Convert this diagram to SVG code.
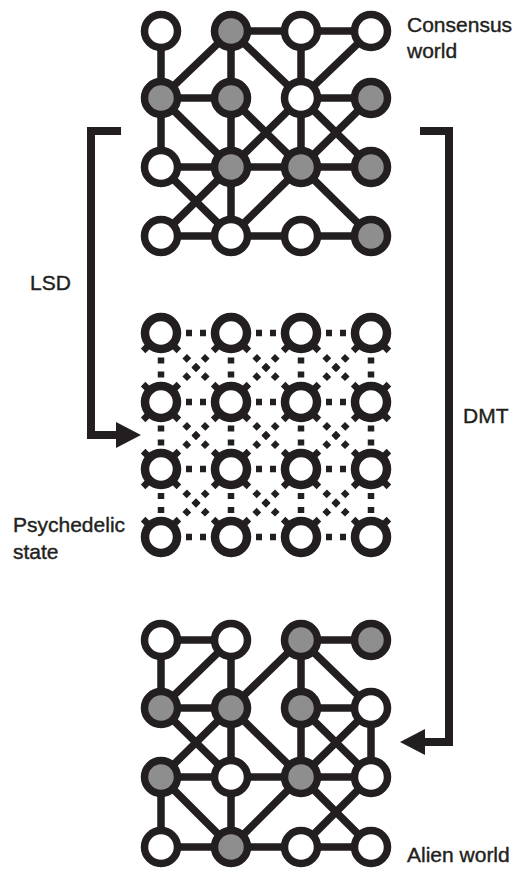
<svg xmlns="http://www.w3.org/2000/svg" xmlns:xlink="http://www.w3.org/1999/xlink" width="522" height="871" viewBox="0 0 522 871">
<style>
.edge{stroke:#231f20;stroke-width:7.5;fill:none;stroke-linecap:butt}
.node{stroke:#231f20;stroke-width:7.5;fill:#ffffff}
.grey{fill:#8e8e8e}
.ring{stroke:#231f20;stroke-width:8.5;fill:#ffffff}
.tab{stroke:#231f20;stroke-width:6.5;stroke-linecap:butt}
.dh{stroke:#231f20;stroke-width:6.5;stroke-dasharray:6 8}
.dd{stroke:#231f20;stroke-width:6.5;stroke-dasharray:6 7}
.arrow{stroke:#231f20;stroke-width:8;fill:none;stroke-linejoin:miter}
.head{fill:#231f20}
.lbl{font-family:"Liberation Sans",Arial,sans-serif;font-size:21px;fill:#231f20;stroke:#231f20;stroke-width:0.4}
</style>
<defs>
<g id="tabsD"><line class="tab" x1="13.4" y1="13.4" x2="17.9" y2="17.9"/><line class="tab" x1="-13.4" y1="13.4" x2="-17.9" y2="17.9"/></g>
<g id="tabsU"><line class="tab" x1="13.4" y1="-13.4" x2="17.9" y2="-17.9"/><line class="tab" x1="-13.4" y1="-13.4" x2="-17.9" y2="-17.9"/></g>
</defs>
<rect width="522" height="871" fill="#ffffff"/>

<g id="connectors">
<g id="top-edges" class="edge">
<path d="M231,31 H371 M161,98 H231 M301,98 H371 M161,167 H371 M161,236 H371"/>
<path d="M161,31 V167 M231,31 V236 M301,31 V167"/>
<path d="M231,31 L161,98 M231,31 L301,98 L371,167 M371,31 L301,98 L231,167 L161,236 M161,98 L231,167 M231,98 L301,167 L371,236 M371,98 L301,167 L231,236 M161,167 L231,236"/>
</g>
<g id="bottom-edges" class="edge">
<path d="M161,640 H231 M301,640 H371 M161,708 H231 M301,708 H371 M161,777 H371 M161,847 H371"/>
<path d="M161,640 V708 M161,777 V847 M231,640 V847 M301,640 V777 M371,708 V777"/>
<path d="M231,640 L161,708 M301,640 L231,708 L161,777 M301,640 L371,708 L301,777 L231,847 M161,708 L231,777 M231,708 L301,777 L371,847 M301,708 L371,777 L301,847 M161,777 L231,847"/>
</g>
<g id="middle-edges">
<line class="dh" x1="186" y1="333" x2="206" y2="333"/><line class="dh" x1="256" y1="333" x2="276" y2="333"/><line class="dh" x1="326" y1="333" x2="346" y2="333"/>
<line class="dh" x1="186" y1="402" x2="206" y2="402"/><line class="dh" x1="256" y1="402" x2="276" y2="402"/><line class="dh" x1="326" y1="402" x2="346" y2="402"/>
<line class="dh" x1="186" y1="469" x2="206" y2="469"/><line class="dh" x1="256" y1="469" x2="276" y2="469"/><line class="dh" x1="326" y1="469" x2="346" y2="469"/>
<line class="dh" x1="186" y1="537" x2="206" y2="537"/><line class="dh" x1="256" y1="537" x2="276" y2="537"/><line class="dh" x1="326" y1="537" x2="346" y2="537"/>
<line class="dh" x1="161" y1="357.5" x2="161" y2="377.5"/><line class="dh" x1="231" y1="357.5" x2="231" y2="377.5"/><line class="dh" x1="301" y1="357.5" x2="301" y2="377.5"/><line class="dh" x1="371" y1="357.5" x2="371" y2="377.5"/>
<line class="dh" x1="161" y1="425.5" x2="161" y2="445.5"/><line class="dh" x1="231" y1="425.5" x2="231" y2="445.5"/><line class="dh" x1="301" y1="425.5" x2="301" y2="445.5"/><line class="dh" x1="371" y1="425.5" x2="371" y2="445.5"/>
<line class="dh" x1="161" y1="493" x2="161" y2="513"/><line class="dh" x1="231" y1="493" x2="231" y2="513"/><line class="dh" x1="301" y1="493" x2="301" y2="513"/><line class="dh" x1="371" y1="493" x2="371" y2="513"/>
<line class="dd" x1="184.7" y1="356.2" x2="207.3" y2="378.8"/><line class="dd" x1="207.3" y1="356.2" x2="184.7" y2="378.8"/>
<line class="dd" x1="254.7" y1="356.2" x2="277.3" y2="378.8"/><line class="dd" x1="277.3" y1="356.2" x2="254.7" y2="378.8"/>
<line class="dd" x1="324.7" y1="356.2" x2="347.3" y2="378.8"/><line class="dd" x1="347.3" y1="356.2" x2="324.7" y2="378.8"/>
<line class="dd" x1="184.7" y1="424.2" x2="207.3" y2="446.8"/><line class="dd" x1="207.3" y1="424.2" x2="184.7" y2="446.8"/>
<line class="dd" x1="254.7" y1="424.2" x2="277.3" y2="446.8"/><line class="dd" x1="277.3" y1="424.2" x2="254.7" y2="446.8"/>
<line class="dd" x1="324.7" y1="424.2" x2="347.3" y2="446.8"/><line class="dd" x1="347.3" y1="424.2" x2="324.7" y2="446.8"/>
<line class="dd" x1="184.7" y1="491.7" x2="207.3" y2="514.3"/><line class="dd" x1="207.3" y1="491.7" x2="184.7" y2="514.3"/>
<line class="dd" x1="254.7" y1="491.7" x2="277.3" y2="514.3"/><line class="dd" x1="277.3" y1="491.7" x2="254.7" y2="514.3"/>
<line class="dd" x1="324.7" y1="491.7" x2="347.3" y2="514.3"/><line class="dd" x1="347.3" y1="491.7" x2="324.7" y2="514.3"/>
</g>
<g id="lsd-arrow"><path class="arrow" d="M121,131 H91 V435 H120"/><polygon class="head" points="116,422 141,435 116,448"/></g>
<g id="dmt-arrow"><path class="arrow" d="M420,131 H449 V742 H422"/><polygon class="head" points="425,729 400,742 425,755"/></g>
</g>

<g id="top-nodes">
<g id="t00"><circle class="node" cx="161" cy="31" r="16.5"/></g>
<g id="t01"><circle class="node grey" cx="231" cy="31" r="16.5"/></g>
<g id="t02"><circle class="node" cx="301" cy="31" r="16.5"/></g>
<g id="t03"><circle class="node" cx="371" cy="31" r="16.5"/></g>
<g id="t10"><circle class="node grey" cx="161" cy="98" r="16.5"/></g>
<g id="t11"><circle class="node grey" cx="231" cy="98" r="16.5"/></g>
<g id="t12"><circle class="node" cx="301" cy="98" r="16.5"/></g>
<g id="t13"><circle class="node grey" cx="371" cy="98" r="16.5"/></g>
<g id="t20"><circle class="node" cx="161" cy="167" r="16.5"/></g>
<g id="t21"><circle class="node grey" cx="231" cy="167" r="16.5"/></g>
<g id="t22"><circle class="node grey" cx="301" cy="167" r="16.5"/></g>
<g id="t23"><circle class="node grey" cx="371" cy="167" r="16.5"/></g>
<g id="t30"><circle class="node" cx="161" cy="236" r="16.5"/></g>
<g id="t31"><circle class="node" cx="231" cy="236" r="16.5"/></g>
<g id="t32"><circle class="node" cx="301" cy="236" r="16.5"/></g>
<g id="t33"><circle class="node grey" cx="371" cy="236" r="16.5"/></g>
</g>

<g id="middle-nodes">
<g id="m00"><use xlink:href="#tabsD" x="161" y="333"/><circle class="ring" cx="161" cy="333" r="16"/></g>
<g id="m01"><use xlink:href="#tabsD" x="231" y="333"/><circle class="ring" cx="231" cy="333" r="16"/></g>
<g id="m02"><use xlink:href="#tabsD" x="301" y="333"/><circle class="ring" cx="301" cy="333" r="16"/></g>
<g id="m03"><use xlink:href="#tabsD" x="371" y="333"/><circle class="ring" cx="371" cy="333" r="16"/></g>
<g id="m10"><use xlink:href="#tabsD" x="161" y="402"/><use xlink:href="#tabsU" x="161" y="402"/><circle class="ring" cx="161" cy="402" r="16"/></g>
<g id="m11"><use xlink:href="#tabsD" x="231" y="402"/><use xlink:href="#tabsU" x="231" y="402"/><circle class="ring" cx="231" cy="402" r="16"/></g>
<g id="m12"><use xlink:href="#tabsD" x="301" y="402"/><use xlink:href="#tabsU" x="301" y="402"/><circle class="ring" cx="301" cy="402" r="16"/></g>
<g id="m13"><use xlink:href="#tabsD" x="371" y="402"/><use xlink:href="#tabsU" x="371" y="402"/><circle class="ring" cx="371" cy="402" r="16"/></g>
<g id="m20"><use xlink:href="#tabsD" x="161" y="469"/><use xlink:href="#tabsU" x="161" y="469"/><circle class="ring" cx="161" cy="469" r="16"/></g>
<g id="m21"><use xlink:href="#tabsD" x="231" y="469"/><use xlink:href="#tabsU" x="231" y="469"/><circle class="ring" cx="231" cy="469" r="16"/></g>
<g id="m22"><use xlink:href="#tabsD" x="301" y="469"/><use xlink:href="#tabsU" x="301" y="469"/><circle class="ring" cx="301" cy="469" r="16"/></g>
<g id="m23"><use xlink:href="#tabsD" x="371" y="469"/><use xlink:href="#tabsU" x="371" y="469"/><circle class="ring" cx="371" cy="469" r="16"/></g>
<g id="m30"><use xlink:href="#tabsU" x="161" y="537"/><circle class="ring" cx="161" cy="537" r="16"/></g>
<g id="m31"><use xlink:href="#tabsU" x="231" y="537"/><circle class="ring" cx="231" cy="537" r="16"/></g>
<g id="m32"><use xlink:href="#tabsU" x="301" y="537"/><circle class="ring" cx="301" cy="537" r="16"/></g>
<g id="m33"><use xlink:href="#tabsU" x="371" y="537"/><circle class="ring" cx="371" cy="537" r="16"/></g>
</g>

<g id="bottom-nodes">
<g id="b00"><circle class="node" cx="161" cy="640" r="16.5"/></g>
<g id="b01"><circle class="node" cx="231" cy="640" r="16.5"/></g>
<g id="b02"><circle class="node grey" cx="301" cy="640" r="16.5"/></g>
<g id="b03"><circle class="node grey" cx="371" cy="640" r="16.5"/></g>
<g id="b10"><circle class="node grey" cx="161" cy="708" r="16.5"/></g>
<g id="b11"><circle class="node grey" cx="231" cy="708" r="16.5"/></g>
<g id="b12"><circle class="node grey" cx="301" cy="708" r="16.5"/></g>
<g id="b13"><circle class="node" cx="371" cy="708" r="16.5"/></g>
<g id="b20"><circle class="node grey" cx="161" cy="777" r="16.5"/></g>
<g id="b21"><circle class="node" cx="231" cy="777" r="16.5"/></g>
<g id="b22"><circle class="node grey" cx="301" cy="777" r="16.5"/></g>
<g id="b23"><circle class="node" cx="371" cy="777" r="16.5"/></g>
<g id="b30"><circle class="node" cx="161" cy="847" r="16.5"/></g>
<g id="b31"><circle class="node grey" cx="231" cy="847" r="16.5"/></g>
<g id="b32"><circle class="node" cx="301" cy="847" r="16.5"/></g>
<g id="b33"><circle class="node" cx="371" cy="847" r="16.5"/></g>
</g>

<g id="labels">
<text class="lbl" x="407" y="32">Consensus</text>
<text class="lbl" x="407" y="58">world</text>
<text class="lbl" x="30" y="290">LSD</text>
<text class="lbl" x="463" y="423">DMT</text>
<text class="lbl" x="13" y="532">Psychedelic</text>
<text class="lbl" x="13" y="559">state</text>
<text class="lbl" x="407" y="862">Alien world</text>
</g>
</svg>
